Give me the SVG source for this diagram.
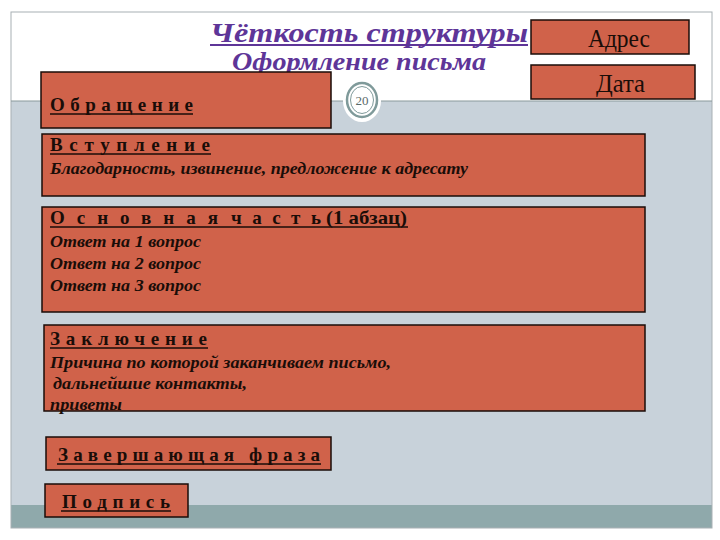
<svg xmlns="http://www.w3.org/2000/svg" width="720" height="540" viewBox="0 0 720 540">
<style>
.box{fill:#d0624a;stroke:#1a0d08;stroke-width:1.5}
.hd{font-family:"Liberation Serif",serif;font-weight:bold;font-size:19px;fill:#1a0d08}
.ul{stroke:#1a0d08;stroke-width:1.6}
.it{font-family:"Liberation Serif",serif;font-weight:bold;font-style:italic;font-size:17px;fill:#1a0d08}
.pl{font-family:"Liberation Serif",serif;font-size:26px;fill:#1a0d08}
.ttl{font-family:"Liberation Serif",serif;font-style:italic;font-weight:bold;fill:#5e3598}
</style>
<rect x="0" y="0" width="720" height="540" fill="#ffffff"/>
<g id="frame">
<rect x="11" y="101" width="701" height="404" fill="#c8d2da"/>
<rect x="11" y="505" width="701" height="23" fill="#8fa9ab"/>
<rect x="11" y="12" width="701" height="516" fill="none" stroke="#a8b0b4" stroke-width="1"/>
<line x1="11" y1="101" x2="344" y2="101" stroke="#8a9a9c" stroke-width="1.2"/>
<line x1="380" y1="101" x2="712" y2="101" stroke="#8a9a9c" stroke-width="1.2"/>
</g>
<g id="page-number">
<ellipse cx="362" cy="101" rx="19" ry="21" fill="#ffffff"/>
<ellipse cx="362" cy="100" rx="15" ry="17" fill="#ffffff" stroke="#7f9a9a" stroke-width="2.5"/>
<ellipse cx="362" cy="100" rx="11.5" ry="13.5" fill="none" stroke="#7f9a9a" stroke-width="1"/>
<text x="362" y="105" font-family="Liberation Serif,serif" font-size="13" fill="#5a6a6a" text-anchor="middle">20</text>
</g>
<g id="title">
<text class="ttl" x="210" y="42" font-size="28" textLength="318" lengthAdjust="spacingAndGlyphs">Чёткость структуры</text>
<line x1="210" y1="45" x2="528" y2="45" stroke="#5e3598" stroke-width="1.8"/>
<text class="ttl" x="232" y="70" font-size="25" textLength="254" lengthAdjust="spacingAndGlyphs">Оформление письма</text>
</g>
<g id="address">
<rect class="box" x="531" y="20" width="158" height="34"/>
<text class="pl" x="588" y="47" textLength="62" lengthAdjust="spacingAndGlyphs">Адрес</text>
</g>
<g id="date">
<rect class="box" x="531" y="65" width="164" height="34"/>
<text class="pl" x="596" y="92" textLength="49" lengthAdjust="spacingAndGlyphs">Дата</text>
</g>
<g id="greeting">
<rect class="box" x="41" y="72" width="290" height="56"/>
<text class="hd" x="50" y="111" textLength="143" lengthAdjust="spacing">Обращение</text>
<line class="ul" x1="50" y1="114" x2="193" y2="114"/>
</g>
<g id="intro">
<rect class="box" x="42" y="134" width="603" height="62"/>
<text class="hd" x="50" y="151" textLength="160" lengthAdjust="spacing">Вступление</text>
<line class="ul" x1="50" y1="154" x2="211" y2="154"/>
<text class="it" x="50" y="174" textLength="418" lengthAdjust="spacingAndGlyphs">Благодарность, извинение, предложение к адресату</text>
</g>
<g id="main">
<rect class="box" x="42" y="207" width="603" height="105"/>
<text class="hd" x="50" y="224"><tspan textLength="168" lengthAdjust="spacing">Основная</tspan><tspan x="231" textLength="90" lengthAdjust="spacing">часть</tspan><tspan x="326" textLength="81" lengthAdjust="spacingAndGlyphs">(1 абзац)</tspan></text>
<line class="ul" x1="50" y1="227" x2="408" y2="227"/>
<text class="it" x="50" y="247" textLength="151" lengthAdjust="spacingAndGlyphs">Ответ на 1 вопрос</text>
<text class="it" x="50" y="269" textLength="151" lengthAdjust="spacingAndGlyphs">Ответ на 2 вопрос</text>
<text class="it" x="50" y="291" textLength="151" lengthAdjust="spacingAndGlyphs">Ответ на 3 вопрос</text>
</g>
<g id="conclusion">
<rect class="box" x="44" y="325" width="601" height="86"/>
<text class="hd" x="50" y="345" textLength="157" lengthAdjust="spacing">Заключение</text>
<line class="ul" x1="50" y1="348" x2="208" y2="348"/>
<text class="it" x="50" y="368" textLength="341" lengthAdjust="spacingAndGlyphs">Причина по которой заканчиваем письмо,</text>
<text class="it" x="53" y="389" textLength="194" lengthAdjust="spacingAndGlyphs">дальнейшие контакты,</text>
<text class="it" x="50" y="410" textLength="72" lengthAdjust="spacingAndGlyphs">приветы</text>
</g>
<g id="closing">
<rect class="box" x="46" y="437" width="285" height="33"/>
<text class="hd" x="58" y="461" textLength="262" lengthAdjust="spacing">Завершающая фраза</text>
<line class="ul" x1="57" y1="464" x2="321" y2="464"/>
</g>
<g id="signature">
<rect class="box" x="45" y="484" width="143" height="33"/>
<text class="hd" x="62" y="508" textLength="108" lengthAdjust="spacing">Подпись</text>
<line class="ul" x1="61" y1="511" x2="171" y2="511"/>
</g>
<g id="connectors"></g>
</svg>
